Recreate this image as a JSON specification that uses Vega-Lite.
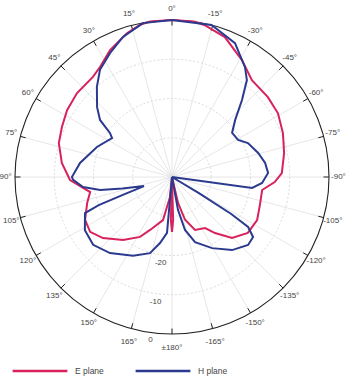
{
  "$schema": "https://vega.github.io/schema/vega-lite/v6.json",
  "width": 314,
  "height": 314,
  "autosize": {"type": "none"},
  "padding": {"left": 15, "top": 20, "right": 21, "bottom": 49},
  "background": "white",
  "config": {"view": {"stroke": null}, "text": {"font": "Liberation Sans"}},
  "datasets": {
    "rings": [{"level": -30}, {"level": -20}, {"level": -10}],
    "outer": [{"level": 0}],
    "angles": [
      {"a": 0, "t": "0°"}, {"a": 15, "t": "15°"}, {"a": 30, "t": "30°"}, {"a": 45, "t": "45°"},
      {"a": 60, "t": "60°"}, {"a": 75, "t": "75°"}, {"a": 90, "t": "90°"}, {"a": 105, "t": "105°"},
      {"a": 120, "t": "120°"}, {"a": 135, "t": "135°"}, {"a": 150, "t": "150°"}, {"a": 165, "t": "165°"},
      {"a": 180, "t": "±180°"}, {"a": -165, "t": "-165°"}, {"a": -150, "t": "-150°"}, {"a": -135, "t": "-135°"},
      {"a": -120, "t": "-120°"}, {"a": -105, "t": "-105°"}, {"a": -90, "t": "-90°"}, {"a": -75, "t": "-75°"},
      {"a": -60, "t": "-60°"}, {"a": -45, "t": "-45°"}, {"a": -30, "t": "-30°"}, {"a": -15, "t": "-15°"}
    ],
    "rlabels": [{"t": "0", "level": 0}, {"t": "-10", "level": -10}, {"t": "-20", "level": -20}],
    "curves": [
      {"p": "E plane", "a": -180, "db": -26},
      {"p": "E plane", "a": -178.5, "db": -29},
      {"p": "E plane", "a": -176, "db": -40},
      {"p": "E plane", "a": -171, "db": -40},
      {"p": "E plane", "a": -167, "db": -33.2},
      {"p": "E plane", "a": -163, "db": -28.6},
      {"p": "E plane", "a": -156.5, "db": -25.3},
      {"p": "E plane", "a": -147, "db": -24.5},
      {"p": "E plane", "a": -142.5, "db": -22.0},
      {"p": "E plane", "a": -135.5, "db": -18.2},
      {"p": "E plane", "a": -126.4, "db": -16.0},
      {"p": "E plane", "a": -116.8, "db": -15.7},
      {"p": "E plane", "a": -107.6, "db": -16.5},
      {"p": "E plane", "a": -98.2, "db": -16.8},
      {"p": "E plane", "a": -92.8, "db": -13.8},
      {"p": "E plane", "a": -88, "db": -12.0},
      {"p": "E plane", "a": -78, "db": -10.8},
      {"p": "E plane", "a": -68.4, "db": -9.6},
      {"p": "E plane", "a": -59, "db": -8.5},
      {"p": "E plane", "a": -50.2, "db": -8.2},
      {"p": "E plane", "a": -39.5, "db": -8.0},
      {"p": "E plane", "a": -30.9, "db": -5.3},
      {"p": "E plane", "a": -20.7, "db": -1.9},
      {"p": "E plane", "a": -12, "db": -0.4},
      {"p": "E plane", "a": -8, "db": 0},
      {"p": "E plane", "a": 0, "db": 0},
      {"p": "E plane", "a": 8, "db": 0},
      {"p": "E plane", "a": 11.9, "db": -0.4},
      {"p": "E plane", "a": 17.4, "db": -1.6},
      {"p": "E plane", "a": 26, "db": -4.0},
      {"p": "E plane", "a": 33.2, "db": -6.5},
      {"p": "E plane", "a": 38.3, "db": -7.5},
      {"p": "E plane", "a": 48.5, "db": -7.7},
      {"p": "E plane", "a": 57.5, "db": -8.3},
      {"p": "E plane", "a": 65.6, "db": -9.2},
      {"p": "E plane", "a": 73.3, "db": -9.9},
      {"p": "E plane", "a": 82.7, "db": -11.7},
      {"p": "E plane", "a": 91.7, "db": -14.0},
      {"p": "E plane", "a": 100.4, "db": -18.8},
      {"p": "E plane", "a": 107, "db": -17.4},
      {"p": "E plane", "a": 116.3, "db": -15.3},
      {"p": "E plane", "a": 123.8, "db": -14.9},
      {"p": "E plane", "a": 131.5, "db": -16.5},
      {"p": "E plane", "a": 142.1, "db": -19.7},
      {"p": "E plane", "a": 151.9, "db": -22.7},
      {"p": "E plane", "a": 157.5, "db": -25.4},
      {"p": "E plane", "a": 168.2, "db": -28.8},
      {"p": "E plane", "a": 174.3, "db": -34.9},
      {"p": "E plane", "a": 176.5, "db": -40},
      {"p": "E plane", "a": 178.5, "db": -29},
      {"p": "E plane", "a": 180, "db": -26},
      {"p": "H plane", "a": -180, "db": -40},
      {"p": "H plane", "a": -172, "db": -40},
      {"p": "H plane", "a": -169.7, "db": -31.5},
      {"p": "H plane", "a": -166.2, "db": -26.1},
      {"p": "H plane", "a": -160.5, "db": -22.4},
      {"p": "H plane", "a": -150.6, "db": -19.2},
      {"p": "H plane", "a": -140.6, "db": -15.9},
      {"p": "H plane", "a": -131.8, "db": -14.0},
      {"p": "H plane", "a": -126.5, "db": -14.3},
      {"p": "H plane", "a": -123.3, "db": -16.8},
      {"p": "H plane", "a": -122, "db": -22.2},
      {"p": "H plane", "a": -121, "db": -32},
      {"p": "H plane", "a": -119, "db": -40},
      {"p": "H plane", "a": -101, "db": -40},
      {"p": "H plane", "a": -97.8, "db": -19.4},
      {"p": "H plane", "a": -93.8, "db": -17.0},
      {"p": "H plane", "a": -87.6, "db": -15.5},
      {"p": "H plane", "a": -81.4, "db": -16.0},
      {"p": "H plane", "a": -74.4, "db": -17.2},
      {"p": "H plane", "a": -65.9, "db": -18.8},
      {"p": "H plane", "a": -60.7, "db": -20.7},
      {"p": "H plane", "a": -53.7, "db": -21.0},
      {"p": "H plane", "a": -47.9, "db": -18.3},
      {"p": "H plane", "a": -42.3, "db": -13.5},
      {"p": "H plane", "a": -37.7, "db": -8.8},
      {"p": "H plane", "a": -33.6, "db": -6.4},
      {"p": "H plane", "a": -25.2, "db": -2.3},
      {"p": "H plane", "a": -14.6, "db": 0},
      {"p": "H plane", "a": 0, "db": 0},
      {"p": "H plane", "a": 10.7, "db": -0.1},
      {"p": "H plane", "a": 19.3, "db": -2.2},
      {"p": "H plane", "a": 26.6, "db": -4.7},
      {"p": "H plane", "a": 33.9, "db": -7.1},
      {"p": "H plane", "a": 39.8, "db": -10.1},
      {"p": "H plane", "a": 47, "db": -13.9},
      {"p": "H plane", "a": 51.6, "db": -16.6},
      {"p": "H plane", "a": 54.6, "db": -20.6},
      {"p": "H plane", "a": 57, "db": -21.8},
      {"p": "H plane", "a": 68.2, "db": -19.4},
      {"p": "H plane", "a": 81.3, "db": -16.3},
      {"p": "H plane", "a": 90, "db": -14.5},
      {"p": "H plane", "a": 91.7, "db": -14.8},
      {"p": "H plane", "a": 96.4, "db": -17.2},
      {"p": "H plane", "a": 100.2, "db": -21.4},
      {"p": "H plane", "a": 103, "db": -27},
      {"p": "H plane", "a": 108, "db": -32.5},
      {"p": "H plane", "a": 110, "db": -27},
      {"p": "H plane", "a": 111, "db": -20},
      {"p": "H plane", "a": 112.5, "db": -16},
      {"p": "H plane", "a": 121.4, "db": -14},
      {"p": "H plane", "a": 130.7, "db": -13.5},
      {"p": "H plane", "a": 140.8, "db": -15},
      {"p": "H plane", "a": 153.7, "db": -17.6},
      {"p": "H plane", "a": 163.9, "db": -19.8},
      {"p": "H plane", "a": 169.7, "db": -22.9},
      {"p": "H plane", "a": 174.9, "db": -25.7},
      {"p": "H plane", "a": 177.5, "db": -40},
      {"p": "H plane", "a": 180, "db": -40}
    ]
  },
  "layer": [
    {
      "data": {"name": "rings"},
      "transform": [
        {"calculate": "pow((datum.level+40)/40,2)", "as": "q"},
        {"calculate": "0", "as": "cx"}
      ],
      "mark": {"type": "point", "shape": "circle", "filled": false, "stroke": "#d0d0d0", "strokeWidth": 0.8, "strokeDash": [2, 2], "opacity": 1},
      "encoding": {
        "x": {"field": "cx", "type": "quantitative", "scale": {"domain": [-40, 40], "nice": false, "zero": false}, "axis": null},
        "y": {"field": "cx", "type": "quantitative", "scale": {"domain": [-40, 40], "nice": false, "zero": false}, "axis": null},
        "size": {"field": "q", "type": "quantitative", "scale": {"type": "linear", "domain": [0, 1], "range": [0, 98596], "zero": true}, "legend": null}
      }
    },
    {
      "data": {"name": "angles"},
      "transform": [
        {"calculate": "0", "as": "cx"},
        {"calculate": "-40*sin(datum.a*PI/180)", "as": "ex"},
        {"calculate": "40*cos(datum.a*PI/180)", "as": "ey"}
      ],
      "mark": {"type": "rule", "stroke": "#e0e0e0", "strokeWidth": 0.8},
      "encoding": {
        "x": {"field": "cx", "type": "quantitative", "scale": {"domain": [-40, 40], "nice": false, "zero": false}, "axis": null},
        "y": {"field": "cx", "type": "quantitative", "scale": {"domain": [-40, 40], "nice": false, "zero": false}, "axis": null},
        "x2": {"field": "ex"},
        "y2": {"field": "ey"}
      }
    },
    {
      "data": {"name": "outer"},
      "transform": [
        {"calculate": "pow((datum.level+40)/40,2)", "as": "q"},
        {"calculate": "0", "as": "cx"}
      ],
      "mark": {"type": "point", "shape": "circle", "filled": false, "stroke": "#222222", "strokeWidth": 1.1, "opacity": 1},
      "encoding": {
        "x": {"field": "cx", "type": "quantitative", "scale": {"domain": [-40, 40], "nice": false, "zero": false}, "axis": null},
        "y": {"field": "cx", "type": "quantitative", "scale": {"domain": [-40, 40], "nice": false, "zero": false}, "axis": null},
        "size": {"field": "q", "type": "quantitative", "scale": {"type": "linear", "domain": [0, 1], "range": [0, 98596], "zero": true}, "legend": null}
      }
    },
    {
      "data": {"name": "angles"},
      "transform": [
        {"calculate": "-40*sin(datum.a*PI/180)", "as": "ex"},
        {"calculate": "40*cos(datum.a*PI/180)", "as": "ey"},
        {"calculate": "-38.6*sin(datum.a*PI/180)", "as": "sx"},
        {"calculate": "38.6*cos(datum.a*PI/180)", "as": "sy"}
      ],
      "mark": {"type": "rule", "stroke": "#222222", "strokeWidth": 1},
      "encoding": {
        "x": {"field": "sx", "type": "quantitative", "scale": {"domain": [-40, 40], "nice": false, "zero": false}, "axis": null},
        "y": {"field": "sy", "type": "quantitative", "scale": {"domain": [-40, 40], "nice": false, "zero": false}, "axis": null},
        "x2": {"field": "ex"},
        "y2": {"field": "ey"}
      }
    },
    {
      "data": {"name": "angles"},
      "transform": [
        {"calculate": "-42.4*sin(datum.a*PI/180)", "as": "lx"},
        {"calculate": "(abs(datum.a)>150 ? 43.6 : 42.9)*cos(datum.a*PI/180)", "as": "ly"}
      ],
      "mark": {"type": "text", "fontSize": 8, "color": "#444444", "align": "center", "baseline": "middle"},
      "encoding": {
        "x": {"field": "lx", "type": "quantitative", "scale": {"domain": [-40, 40], "nice": false, "zero": false}, "axis": null},
        "y": {"field": "ly", "type": "quantitative", "scale": {"domain": [-40, 40], "nice": false, "zero": false}, "axis": null},
        "text": {"field": "t"}
      }
    },
    {
      "data": {"name": "rlabels"},
      "transform": [
        {"calculate": "-(datum.level+42)*sin(172.5*PI/180)", "as": "lx"},
        {"calculate": "(datum.level+42)*cos(172.5*PI/180)", "as": "ly"}
      ],
      "mark": {"type": "text", "fontSize": 8, "color": "#444444", "align": "center", "baseline": "middle"},
      "encoding": {
        "x": {"field": "lx", "type": "quantitative", "scale": {"domain": [-40, 40], "nice": false, "zero": false}, "axis": null},
        "y": {"field": "ly", "type": "quantitative", "scale": {"domain": [-40, 40], "nice": false, "zero": false}, "axis": null},
        "text": {"field": "t"}
      }
    },
    {
      "data": {"name": "curves"},
      "transform": [
        {"calculate": "max(datum.db+40,0)", "as": "r"},
        {"calculate": "-datum.r*sin(datum.a*PI/180)", "as": "x"},
        {"calculate": "datum.r*cos(datum.a*PI/180)", "as": "y"}
      ],
      "mark": {"type": "line", "strokeWidth": 2},
      "encoding": {
        "x": {"field": "x", "type": "quantitative", "scale": {"domain": [-40, 40], "nice": false, "zero": false}, "axis": null},
        "y": {"field": "y", "type": "quantitative", "scale": {"domain": [-40, 40], "nice": false, "zero": false}, "axis": null},
        "order": {"field": "a", "type": "quantitative"},
        "color": {
          "field": "p",
          "type": "nominal",
          "scale": {"domain": ["E plane", "H plane"], "range": ["#d8225c", "#2b3a8f"]},
          "legend": {
            "title": null,
            "orient": "none",
            "legendX": -4,
            "legendY": 322,
            "direction": "horizontal",
            "symbolType": "stroke",
            "symbolSize": 3000,
            "symbolStrokeWidth": 2.5,
            "labelFontSize": 8.5,
            "labelFont": "Liberation Sans",
            "labelColor": "#444444",
            "labelOffset": 6,
            "columnPadding": 26
          }
        }
      }
    }
  ]
}
